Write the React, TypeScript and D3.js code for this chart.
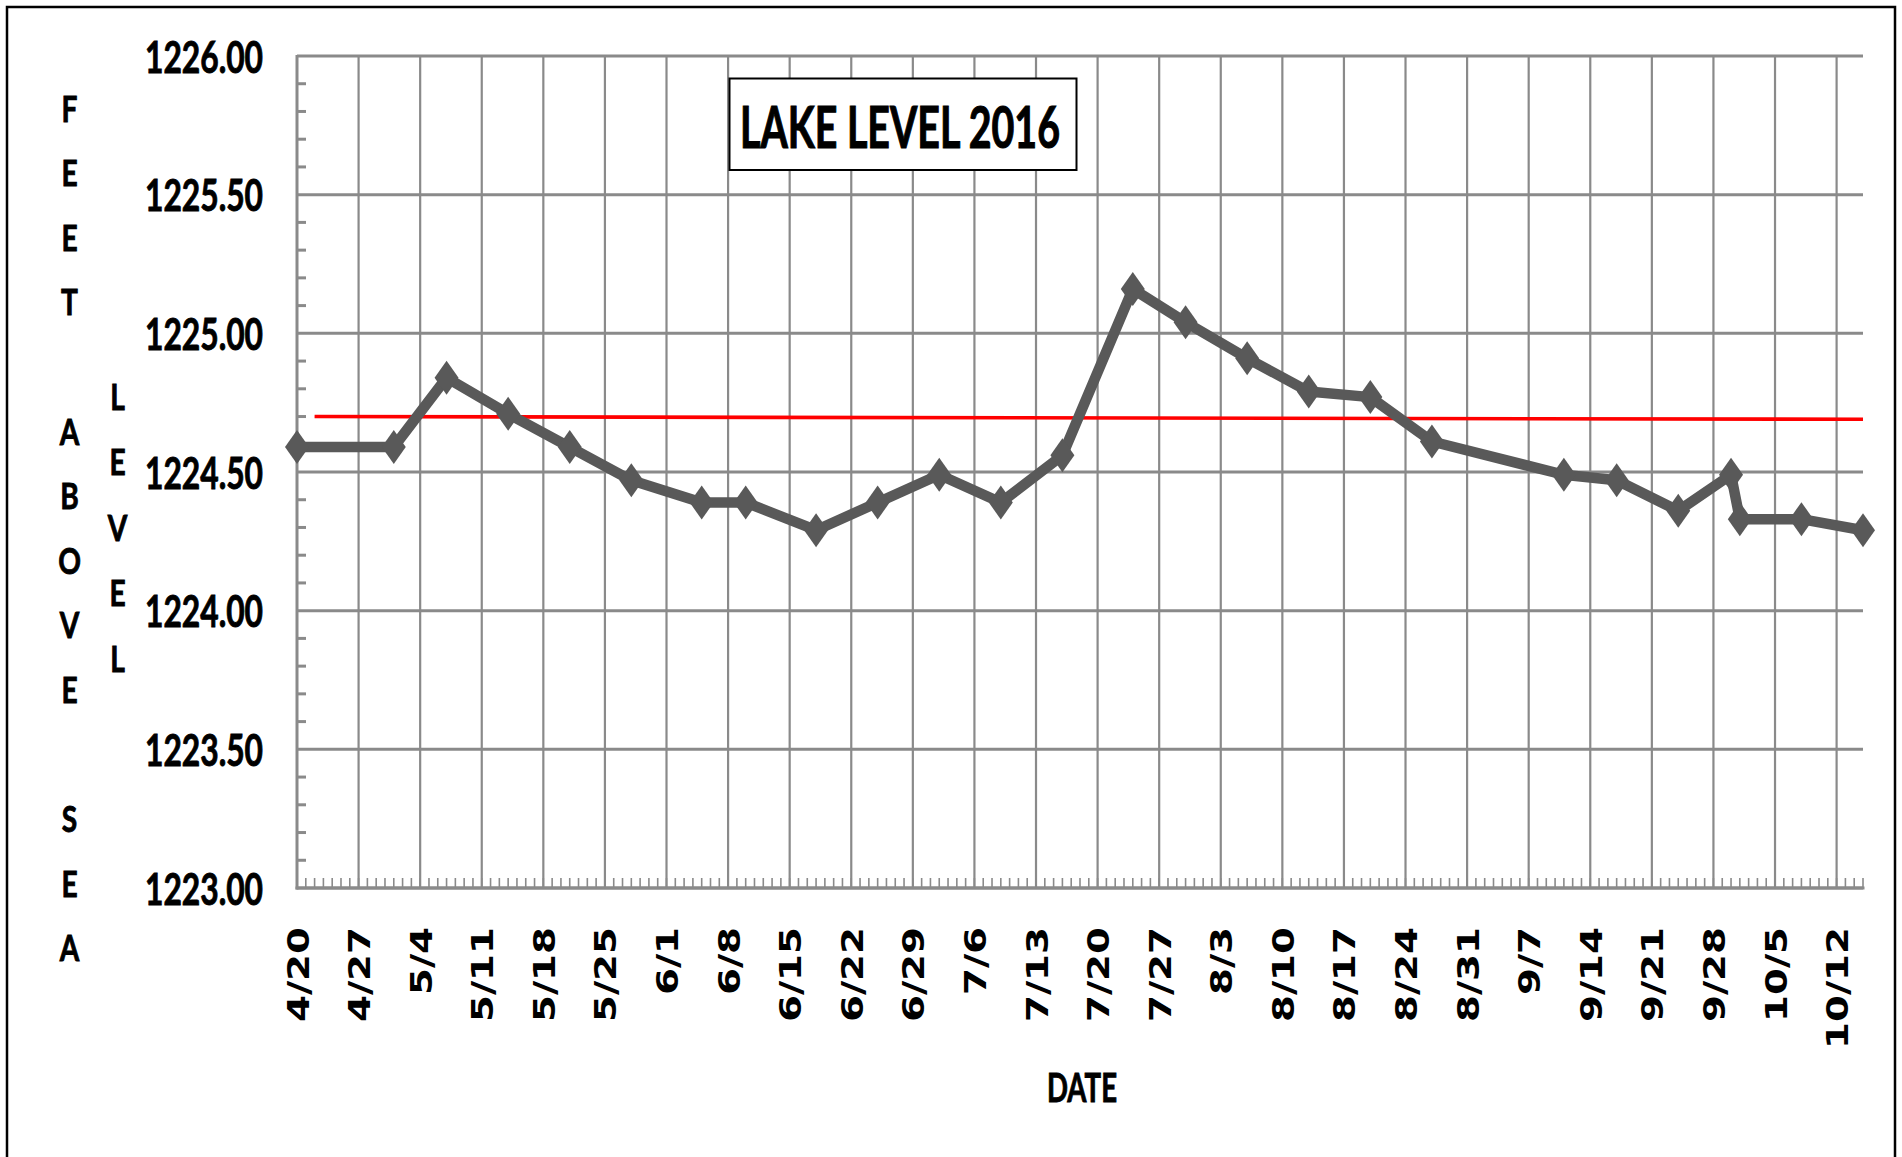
import * as d3 from 'd3'

const YEAR = '2016'
const levelDates = ['4/20', '5/1', '5/7', '5/14', '5/21', '5/28', '6/5', '6/10', '6/18', '6/25', '7/2', '7/9', '7/16',
  '7/24', '7/30', '8/6', '8/13', '8/20', '8/27', '9/11', '9/17', '9/24', '9/30', '10/1', '10/8', '10/15']
const levelValues = [1224.59, 1224.59, 1224.84, 1224.71, 1224.59, 1224.47, 1224.39, 1224.39, 1224.29, 1224.39, 1224.49,
  1224.39, 1224.56, 1225.16, 1225.04, 1224.91, 1224.79, 1224.77, 1224.61, 1224.49, 1224.47, 1224.36, 1224.49, 1224.33,
  1224.33, 1224.29]
const refDates = ['4/22', '10/15']
const refValues = [1224.7, 1224.69]
const xDomain = ['4/20', '10/15']
const yTicks = [1223, 1223.5, 1224, 1224.5, 1225, 1225.5, 1226]
const leftWords = ['F', 'E', 'E', 'T', '', 'A', 'B', 'O', 'V', 'E', '', 'S', 'E', 'A']
const midWord = ['L', 'E', 'V', 'E', 'L']
const title = 'LAKE LEVEL 2016'
const xTitle = 'DATE'

const parse = d3.timeParse('%m/%d/%Y')
const toDate = (s: string) => parse(`${s}/${YEAR}`) as Date

const W = 1902
const H = 1157
const plot = { left: 297, right: 1863, top: 56, bottom: 888 }
const calibri = 'Lato, "Open Sans", sans-serif'
const gridColor = '#8a8a8a'
const lineColor = '#595959'
// faux-bold for the Calibri-like labels
const heavy = { stroke: '#000', strokeWidth: 0.9, paintOrder: 'stroke' as const }

export default function App() {
  const x = d3.scaleTime().domain(xDomain.map(toDate)).range([plot.left, plot.right])
  const y = d3.scaleLinear().domain([1223, 1226]).range([plot.bottom, plot.top])

  const [d0, d1] = x.domain()
  const weeks = d3.timeDay.range(d0, d3.timeDay.offset(d1, 1), 7)
  const days = d3.timeDay.range(d0, d3.timeDay.offset(d1, 1))
  const minorY = d3.range(1223, 1226.001, 0.1).filter((v) => Math.abs(v * 2 - Math.round(v * 2)) > 0.01)
  const fmt = d3.timeFormat('%-m/%-d')

  const pts = levelDates.map((d, i) => ({ date: toDate(d), value: levelValues[i] }))
  const ref = refDates.map((d, i) => ({ date: toDate(d), value: refValues[i] }))
  const line = d3
    .line<{ date: Date; value: number }>()
    .x((d) => x(d.date))
    .y((d) => y(d.value))

  const diamond = 'M0,-17 L12,0 L0,17 L-12,0 Z'

  return (
    <svg
      width={W}
      height={H}
      viewBox={`0 0 ${W} ${H}`}
      style={{ position: 'absolute', left: 0, top: 0, display: 'block', background: '#fff' }}
    >
      <rect x={7} y={7} width={1888} height={1220} fill="#fff" stroke="#000" strokeWidth={2.5} />

      {/* grid */}
      {yTicks.map((v) => (
        <line key={`gy${v}`} x1={plot.left} x2={plot.right} y1={y(v)} y2={y(v)} stroke={gridColor} strokeWidth={3} />
      ))}
      {weeks.slice(1).map((d) => (
        <line key={`gx${+d}`} x1={x(d)} x2={x(d)} y1={plot.top} y2={plot.bottom} stroke={gridColor} strokeWidth={2.2} />
      ))}

      {/* minor ticks */}
      {minorY.map((v) => (
        <line key={`my${v}`} x1={plot.left} x2={plot.left + 9} y1={y(v)} y2={y(v)} stroke={gridColor} strokeWidth={3} />
      ))}
      {days.map((d) => (
        <line key={`mx${+d}`} x1={x(d)} x2={x(d)} y1={plot.bottom - 10} y2={plot.bottom} stroke={gridColor} strokeWidth={1.6} />
      ))}

      {/* axes */}
      <line x1={plot.left} x2={plot.left} y1={plot.top - 1} y2={plot.bottom + 1.5} stroke={gridColor} strokeWidth={3} />
      <line x1={plot.left - 1.5} x2={plot.right + 1.5} y1={plot.bottom} y2={plot.bottom} stroke={gridColor} strokeWidth={3.2} />

      {/* y tick labels */}
      {yTicks.map((v) => (
        <text
          key={`ty${v}`}
          x={263}
          y={y(v) + 16.5}
          textAnchor="end"
          fontFamily={calibri}
          fontWeight={700}
          fontSize={44}
          textLength={118}
          lengthAdjust="spacingAndGlyphs"
          {...heavy}
        >
          {v.toFixed(2)}
        </text>
      ))}

      {/* x tick labels */}
      {weeks.map((d) => (
        <g key={`tx${+d}`} transform={`translate(${x(d) + 11.5},927) rotate(-90) scale(1.25,1)`}>
          <text textAnchor="end" fontFamily='"DejaVu Sans", Verdana, sans-serif' fontWeight={700} fontSize={31}>
            {fmt(d)}
          </text>
        </g>
      ))}

      {/* reference line */}
      <path d={line(ref) || ''} fill="none" stroke="#ff0000" strokeWidth={3.6} />

      {/* level series */}
      <path d={line(pts) || ''} fill="none" stroke={lineColor} strokeWidth={10.5} strokeLinejoin="round" />
      {pts.map((p) => (
        <path key={`pt${+p.date}`} d={diamond} transform={`translate(${x(p.date)},${y(p.value)})`} fill={lineColor} />
      ))}

      {/* title box */}
      <rect x={729.5} y={78.5} width={347} height={91.5} fill="#fff" stroke="#000" strokeWidth={2} />
      <text
        x={900}
        y={147.5}
        textAnchor="middle"
        fontFamily={calibri}
        fontWeight={700}
        fontSize={56.5}
        textLength={320}
        lengthAdjust="spacingAndGlyphs"
        {...heavy}
        strokeWidth={1.1}
      >
        {title}
      </text>

      {/* axis titles */}
      <text
        x={1082}
        y={1102}
        textAnchor="middle"
        fontFamily={calibri}
        fontWeight={700}
        fontSize={40}
        textLength={70}
        lengthAdjust="spacingAndGlyphs"
        {...heavy}
      >
        {xTitle}
      </text>
      {leftWords.map((ch, i) =>
        ch ? (
          <g key={`lw${i}`} transform={`translate(69.5,${108 + i * 64.6 + 13.5}) scale(0.76,1)`}>
            <text textAnchor="middle" fontFamily={calibri} fontWeight={700} fontSize={37} {...heavy}>
              {ch}
            </text>
          </g>
        ) : null
      )}
      {midWord.map((ch, i) => (
        <g key={`mw${i}`} transform={`translate(117.5,${396.5 + i * 65.4 + 13.5}) scale(0.76,1)`}>
          <text textAnchor="middle" fontFamily={calibri} fontWeight={700} fontSize={37} {...heavy}>
            {ch}
          </text>
        </g>
      ))}
    </svg>
  )
}
